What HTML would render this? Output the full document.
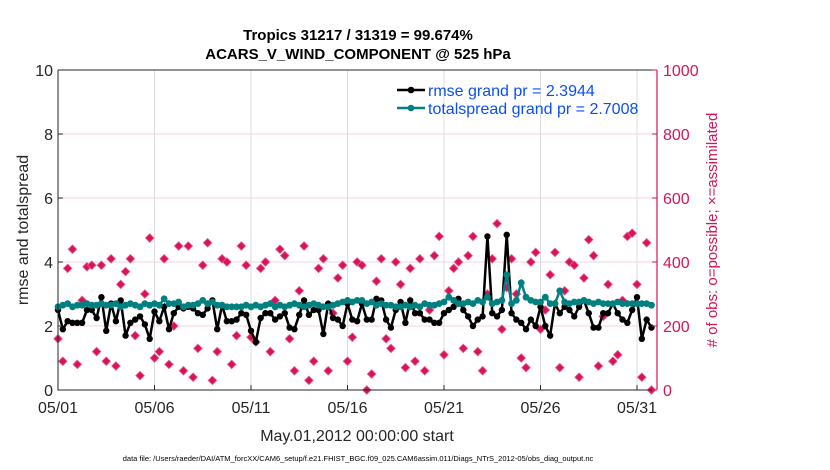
<!DOCTYPE html>
<html><head><meta charset="utf-8"><style>
body{margin:0;background:#fff;}
svg{display:block;font-family:"Liberation Sans",sans-serif;}
</style></head><body>
<svg id="chart" width="830" height="470"></svg>
<script>
const rmse=[2.5,1.9,2.15,2.1, 2.1,2.1,2.5,2.5, 2.25,2.9,1.85,2.7, 2.15,2.8,1.7,2.1, 2.2,2.3,2.05,1.6,
2.45,2.15,2.6,1.9, 2.4,2.6,2.55,2.6, 2.55,2.4,2.35,2.55, 2.8,1.9,2.65,2.15, 2.15,2.2,2.4,2.35,
1.85,1.5,2.25,2.4, 2.4,2.2,2.3,2.4, 1.95,1.9,2.35,2.8, 2.35,2.5,2.5,1.75, 2.7,2.25,2.2,2.0,
2.7,2.2,2.15,2.7, 2.2,2.2,2.85,2.8, 2.2,1.95,2.5,2.75, 2.1,2.8,2.4,2.4, 2.2,2.2,2.1,2.1,
2.4,2.5,2.6,2.85, 2.5,2.3,2.0,2.2, 2.3,4.8,2.4,2.3, 2.5,4.85,2.4,2.2, 2.1,1.9,2.2,2.0,
2.6,2.0,1.7,2.7, 2.4,2.6,2.5,2.3, 2.6,2.8,2.4,1.95, 1.95,2.4,2.4,2.7, 2.4,2.2,2.1,2.5,
2.9,1.6,2.2,1.95];
const spread=[2.6,2.65,2.7,2.6, 2.65,2.65,2.7,2.65, 2.65,2.7,2.65,2.65, 2.7,2.6,2.65,2.7, 2.65,2.6,2.7,2.65,
2.7,2.65,2.85,2.7, 2.7,2.75,2.6,2.65, 2.65,2.7,2.8,2.7, 2.75,2.65,2.65,2.6, 2.6,2.6,2.6,2.65,
2.6,2.65,2.6,2.65, 2.7,2.6,2.65,2.6, 2.65,2.7,2.65,2.6, 2.65,2.7,2.65,2.6, 2.6,2.65,2.7,2.75,
2.8,2.75,2.8,2.8, 2.7,2.75,2.65,2.7, 2.65,2.65,2.6,2.6, 2.65,2.6,2.65,2.6, 2.7,2.65,2.65,2.7,
2.75,2.9,2.8,2.7, 2.7,2.75,2.7,2.8, 2.75,2.9,2.7,2.75, 2.8,3.6,2.7,2.8, 3.35,2.9,2.8,2.75,
2.75,2.9,2.7,2.7, 3.1,2.75,2.7,2.75, 2.75,2.8,2.75,2.7, 2.75,2.7,2.7,2.7, 2.75,2.7,2.7,2.7,
2.7,2.7,2.7,2.65];
const obsCount=[160,90,380,440, 80,280,385,390, 120,390,90,410, 75,330,370,410, 170,45,300,475,
100,120,410,80, 200,450,60,450, 40,130,390,460, 30,120,410,400, 80,170,450,390,
165,150,380,400, 120,280,440,420, 160,60,310,450, 30,90,380,410, 60,240,350,390,
90,165,400,390, 0,50,340,410, 160,130,400,330, 70,380,90,410, 60,250,420,480,
110,310,380,400, 130,420,480,120, 60,300,410,520, 190,320,410,300, 100,70,400,430,
190,250,360,430, 70,310,400,390, 40,350,470,420, 75,230,330,90, 110,280,480,490,
330,40,460,0];
const xTicks=["05/01","05/06","05/11","05/16","05/21","05/26","05/31"];
const yTicks=[0,2,4,6,8,10];
const rTicks=[0,200,400,600,800,1000];

const NS="http://www.w3.org/2000/svg";
const svg=document.getElementById('chart');
const L=58,R=657,T=70,B=390;
const dayW=(637-58)/30;
const xs=d=>L+d*dayW;
const y=v=>B-(v/10)*(B-T);
const yr=n=>B-(n/1000)*(B-T);
function mk(t,a,txt){const e=document.createElementNS(NS,t);for(const k in a)e.setAttribute(k,a[k]);if(txt!==undefined)e.textContent=txt;svg.appendChild(e);return e;}
xTicks.forEach((t,i)=>{const e=mk('line',{x1:xs(i*5),x2:xs(i*5),y1:T,y2:B,stroke:'#dcdcdc','stroke-width':1});

});
rTicks.slice(1,5).forEach(n=>{const e=mk('line',{x1:L,x2:R,y1:yr(n),y2:yr(n),stroke:'#f2d6e0','stroke-width':1});

});
obsCount.forEach((n,i)=>{const cx=xs(i*0.25),cy=yr(n);
const g=mk('path',{d:`M${cx-4.3},${cy} L${cx},${cy-4.3} L${cx+4.3},${cy} L${cx},${cy+4.3}Z`,fill:'#d7135a',stroke:'#e86090','stroke-width':0.8});

});
function series(arr,col,name,r){
const p=mk('polyline',{points:arr.map((v,i)=>xs(i*0.25)+','+y(v)).join(' '),fill:'none',stroke:col,'stroke-width':2.5});


arr.forEach((v,i)=>{const c=mk('circle',{cx:xs(i*0.25),cy:y(v),r:r,fill:col});

});}
series(rmse,'#000','rmse',3.2);
series(spread,'#00807f','totalspread',3.4);
let a=mk('path',{d:`M${L},${T} V${B} H${R}`,fill:'none',stroke:'#262626','stroke-width':1});

a=mk('line',{x1:L,x2:R,y1:T,y2:T,stroke:'#262626','stroke-width':1});

a=mk('line',{x1:R,x2:R,y1:T,y2:B,stroke:'#d7135a','stroke-width':1.2});

yTicks.forEach(v=>{mk('line',{x1:L,x2:L+5,y1:y(v),y2:y(v),stroke:'#262626'});
const t=mk('text',{x:L-5,y:y(v)+6,'text-anchor':'end','font-size':16,fill:'#262626'},v);
});
rTicks.forEach(n=>{mk('line',{x1:R-5,x2:R,y1:yr(n),y2:yr(n),stroke:'#d7135a'});
const t=mk('text',{x:R+6,y:yr(n)+6,'font-size':16,fill:'#d7135a'},n);
});
xTicks.forEach((s,i)=>{mk('line',{x1:xs(i*5),x2:xs(i*5),y1:B,y2:B-5,stroke:'#262626'});
const t=mk('text',{x:xs(i*5),y:B+23,'text-anchor':'middle','font-size':16,fill:'#262626'},s);
});
</script>
<svg width="830" height="470" style="position:absolute;left:0;top:0">
<text x="358" y="40" text-anchor="middle" font-size="15" font-weight="bold" fill="#000">Tropics 31217 / 31319 = 99.674%</text>
<text x="358" y="59" text-anchor="middle" font-size="15" font-weight="bold" fill="#000">ACARS_V_WIND_COMPONENT @ 525 hPa</text>
<text transform="translate(28,230) rotate(-90)" text-anchor="middle" font-size="16" fill="#262626">rmse and totalspread</text>
<text transform="translate(717,230) rotate(-90)" text-anchor="middle" font-size="15" fill="#d7135a"># of obs: o=possible; ×=assimilated</text>
<text x="357" y="441" text-anchor="middle" font-size="16" fill="#262626">May.01,2012 00:00:00 start</text>
<text x="358" y="461" text-anchor="middle" font-size="7.5" fill="#000">data file: /Users/raeder/DAI/ATM_forcXX/CAM6_setup/f.e21.FHIST_BGC.f09_025.CAM6assim.011/Diags_NTrS_2012-05/obs_diag_output.nc</text>
<g>
<line x1="397" x2="425" y1="90" y2="90" stroke="#000" stroke-width="2.5"/><circle cx="411" cy="90" r="3.3" fill="#000"/>
<text x="428" y="96" font-size="16" fill="#0a4ff5">rmse grand pr = 2.3944</text>
<line x1="397" x2="425" y1="108" y2="108" stroke="#00807f" stroke-width="2.5"/><circle cx="411" cy="108" r="3.3" fill="#00807f"/>
<text x="428" y="114" font-size="16" fill="#0a4ff5">totalspread grand pr = 2.7008</text>
</g>
</svg>
</body></html>
